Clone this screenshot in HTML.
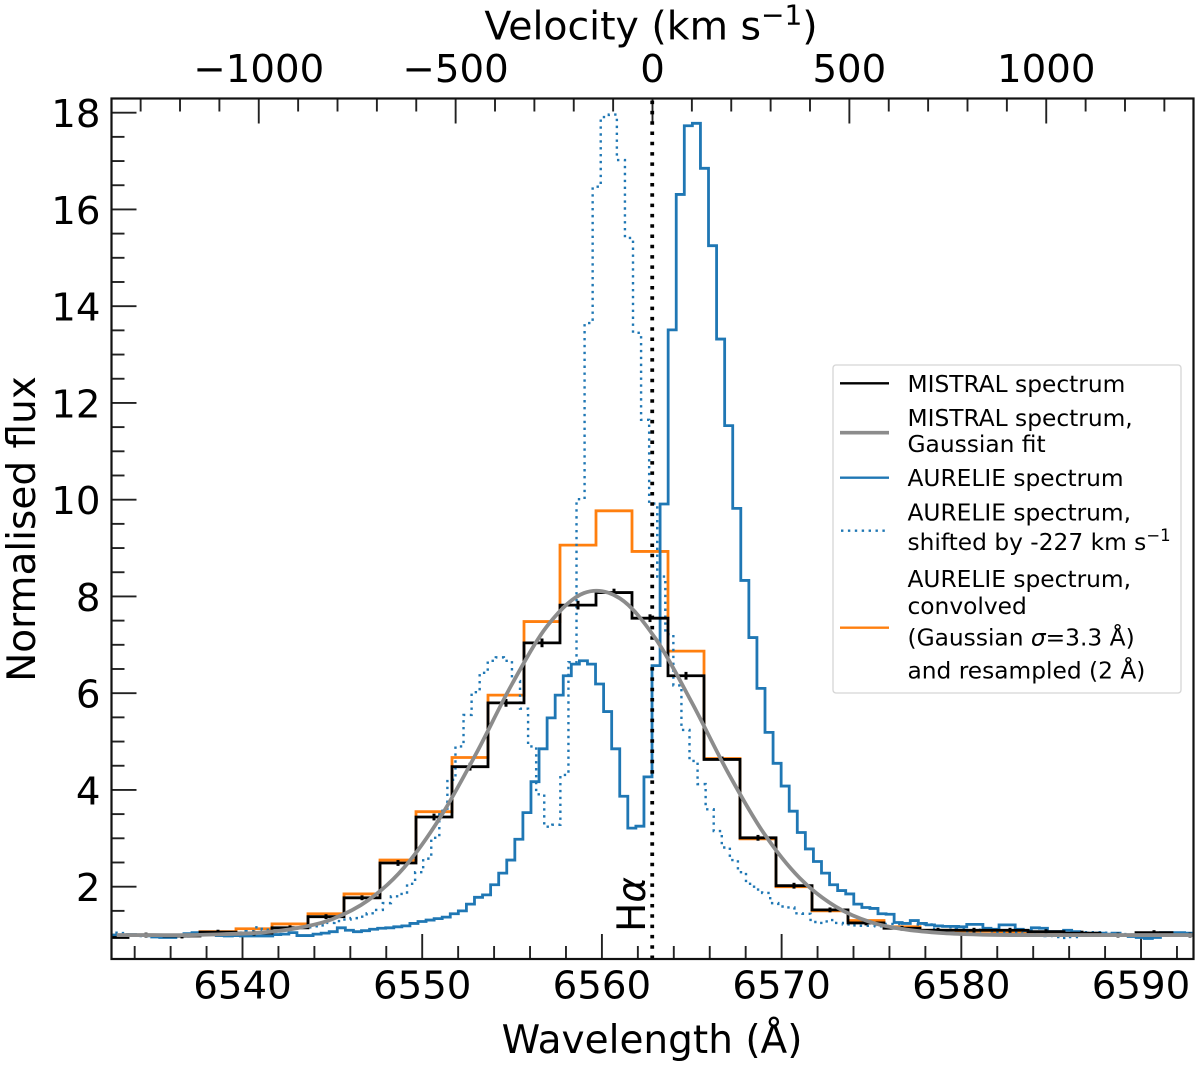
<!DOCTYPE html>
<html lang="en">
<head>
<meta charset="utf-8">
<title>H-alpha spectrum</title>
<style>
html,body{margin:0;padding:0;background:#fff;}
svg{display:block;filter:blur(0.35px);}
text{font-family:"DejaVu Sans","Liberation Sans",sans-serif;fill:#000;}
</style>
</head>
<body>
<svg id="chart" xmlns="http://www.w3.org/2000/svg" width="1200" height="1067" viewBox="0 0 1200 1067">
  <defs>
    <clipPath id="plot-clip"><rect x="111.5" y="98.5" width="1082" height="860.5"></rect></clipPath>
  </defs>
  <rect x="0" y="0" width="1200" height="1067" fill="#fff"></rect>
  <g id="ticks"></g>
  <g id="series" clip-path="url(#plot-clip)"></g>
  <rect x="111.5" y="98.5" width="1082" height="860.5" fill="none" stroke="#111" stroke-width="2.2"></rect>
  <g id="tick-labels"></g>

  <text x="652" y="1053" font-size="39" text-anchor="middle">Wavelength (Å)</text>
  <text transform="translate(35 529) rotate(-90)" font-size="39" text-anchor="middle">Normalised flux</text>
  <text x="651" y="39.5" font-size="39.4" text-anchor="middle">Velocity (km s<tspan dy="-15" font-size="28">−1</tspan><tspan dy="15">)</tspan></text>
  <text transform="translate(645 932) rotate(-90)" font-size="39">H<tspan font-style="italic">α</tspan></text>

  <g>
    <rect x="833" y="365" width="348" height="328" rx="3" fill="#fff" fill-opacity="0.9" stroke="#d5d5d5" stroke-width="1.3"></rect>
    <g>
      <line x1="840" x2="889" y1="383.3" y2="383.3" stroke="#000" stroke-width="2.4"></line>
      <text x="907.5" y="392" font-size="23.3">MISTRAL spectrum</text>
    </g>
    <g>
      <line x1="840" x2="889" y1="432.7" y2="432.7" stroke="#8c8c8c" stroke-width="3.6"></line>
      <text x="907.5" y="426" font-size="23.3">MISTRAL spectrum,</text>
      <text x="907.5" y="452" font-size="23.3">Gaussian fit</text>
    </g>
    <g>
      <line x1="840" x2="889" y1="477.7" y2="477.7" stroke="#1f77b4" stroke-width="2.4"></line>
      <text x="907.5" y="486" font-size="23.3">AURELIE spectrum</text>
    </g>
    <g>
      <line x1="841" x2="889" y1="530.7" y2="530.7" stroke="#1f77b4" stroke-width="2.4" stroke-dasharray="2.4 4.5"></line>
      <text x="907.5" y="520.5" font-size="23.3">AURELIE spectrum,</text>
      <text x="907.5" y="550" font-size="23.3">shifted by -227 km s<tspan dy="-9" font-size="16.5">−1</tspan></text>
    </g>
    <g>
      <line x1="840" x2="889" y1="627.7" y2="627.7" stroke="#ff7f0e" stroke-width="2.4"></line>
      <text x="907.5" y="587" font-size="23.3">AURELIE spectrum,</text>
      <text x="907.5" y="614" font-size="23.3">convolved</text>
      <text x="907.5" y="645.5" font-size="23.3">(Gaussian <tspan font-style="italic">σ</tspan>=3.3 Å)</text>
      <text x="907.5" y="678.5" font-size="23.3">and resampled (2 Å)</text>
    </g>
  </g>
</svg>
<script>
// Axis ranges and tick labels
var xDomain = [6532.71, 6592.92];
var yDomain = [0.505, 18.293];
var velocityDomain = [-1374, 1374];
var wavelengthTickLabels = [6540, 6550, 6560, 6570, 6580, 6590];
var fluxTickLabels = [2, 4, 6, 8, 10, 12, 14, 16, 18];
var velocityTickLabels = [-1000, -500, 0, 500, 1000];
var restWavelength = 6562.8;

// MISTRAL bins, left edge of first bin and bin width in Angstrom
var mistralBinStart = 6531.625;
var mistralBinWidth = 2.0033;
var mistralFlux = [0.95,1.00,0.98,1.06,1.04,1.15,1.38,1.77,2.49,3.44,4.48,5.80,7.04,7.82,8.08,7.55,6.36,4.63,3.01,2.02,1.52,1.25,1.14,1.10,1.10,1.10,1.07,1.04,1.00,1.05,1.00];
var mistralError = [0.05,0.05,0.05,0.05,0.05,0.05,0.05,0.05,0.06,0.07,0.08,0.08,0.09,0.09,0.08,0.08,0.08,0.06,0.06,0.06,0.05,0.05,0.05,0.05,0.05,0.05,0.05,0.05,0.05,0.05,0.05];
var convolvedFlux = [1.00,1.00,0.99,1.07,1.13,1.23,1.44,1.85,2.55,3.55,4.67,5.96,7.48,9.06,9.77,8.93,6.87,4.65,2.99,2.00,1.50,1.30,1.17,1.10,1.08,1.06,1.05,1.03,1.00,1.00,1.00];

// AURELIE high-resolution bins
var aurelieBinStart = 6532.70;
var aurelieBinWidth = 0.44908;
var aurelieFlux = [1.00,1.00,1.01,0.99,0.99,0.96,0.95,0.95,0.98,1.03,1.05,1.04,1.01,0.99,0.98,0.99,0.98,0.98,0.98,0.98,1.01,1.02,1.05,0.99,0.99,1.02,1.04,1.07,1.15,1.10,1.07,1.09,1.12,1.14,1.15,1.17,1.19,1.24,1.28,1.31,1.34,1.37,1.44,1.50,1.64,1.78,1.83,2.04,2.28,2.55,2.98,3.53,4.17,4.85,5.49,5.96,6.36,6.60,6.67,6.60,6.19,5.62,4.85,3.87,3.21,3.25,4.27,6.57,9.91,13.51,16.31,17.73,17.78,16.85,15.25,13.32,11.53,9.82,8.33,7.15,6.10,5.19,4.55,4.08,3.56,3.12,2.78,2.52,2.28,2.04,1.92,1.85,1.64,1.57,1.55,1.44,1.43,1.26,1.24,1.30,1.24,1.21,1.19,1.18,1.18,1.17,1.22,1.22,1.14,1.12,1.21,1.21,1.12,1.09,1.15,1.14,1.07,1.07,1.10,1.07,1.04,1.02,1.04,1.02,1.04,1.00,0.97,0.95,0.93,0.95,1.05,1.05,1.05,1.04];

// AURELIE spectrum as plotted after the velocity shift
var shiftedBinStart = 6532.54;
var shiftedBinWidth = 0.44908;
var shiftedFlux = [1.05,1.04,1.01,0.99,0.98,0.99,0.98,0.98,0.98,0.98,1.01,1.02,1.05,1.00,0.99,1.03,1.05,1.08,1.16,1.11,1.08,1.10,1.13,1.15,1.16,1.18,1.20,1.25,1.29,1.32,1.35,1.38,1.45,1.52,1.66,1.80,1.85,2.06,2.30,2.58,3.01,3.57,4.21,4.90,5.55,6.02,6.42,6.67,6.74,6.67,6.25,5.68,4.90,3.91,3.24,3.28,4.31,6.64,10.01,13.65,16.47,17.91,17.96,17.02,15.41,13.45,11.65,9.92,8.41,7.22,6.16,5.24,4.60,4.12,3.60,3.15,2.81,2.55,2.30,2.06,1.94,1.87,1.66,1.59,1.57,1.45,1.44,1.27,1.25,1.31,1.25,1.22,1.20,1.19,1.19,1.18,1.23,1.23,1.15,1.13,1.22,1.22,1.13,1.10,1.16,1.15,1.08,1.08,1.11,1.08,1.05,1.03,1.05,1.03,1.05,1.01,0.98,0.96,0.94,0.96,1.06,1.06,1.06,1.05,1.03,1.02,1.01,1.00,1.00,1.01,1.00,1.00,0.99,1.00,1.00];

// Gaussian fit curve, sampled every 2 Angstrom
var fitStart = 6533;
var fitStep = 2;
var fitFlux = [1.00,1.00,1.00,1.02,1.05,1.14,1.33,1.72,2.40,3.43,4.75,6.19,7.41,8.07,7.96,7.12,5.81,4.37,3.11,2.18,1.59,1.26,1.11,1.04,1.01,1.00,1.00,1.00,1.00,1.00,1.00];

var plotLeft = 111.5, plotRight = 1193.5, plotTop = 98.5, plotBottom = 959;
var SVG_NS = 'http://www.w3.org/2000/svg';

function xScale(w) {
  return plotLeft + (w - xDomain[0]) / (xDomain[1] - xDomain[0]) * (plotRight - plotLeft);
}
function yScale(f) {
  return plotBottom - (f - yDomain[0]) / (yDomain[1] - yDomain[0]) * (plotBottom - plotTop);
}
function vScale(v) {
  return plotLeft + (v - velocityDomain[0]) / (velocityDomain[1] - velocityDomain[0]) * (plotRight - plotLeft);
}

function make(tag, parent, attrs) {
  var el = document.createElementNS(SVG_NS, tag);
  for (var k in attrs) { el.setAttribute(k, attrs[k]); }
  parent.appendChild(el);
  return el;
}

function stepPath(start, width, values) {
  var d = '';
  for (var i = 0; i < values.length; i++) {
    var x0 = xScale(start + i * width);
    var x1 = xScale(start + (i + 1) * width);
    var y = yScale(values[i]);
    d += (i === 0 ? 'M' + x0.toFixed(2) + ' ' + y.toFixed(2) : 'V' + y.toFixed(2)) + 'H' + x1.toFixed(2);
  }
  return d;
}

function smoothPath(start, step, values) {
  var pts = values.map(function (v, i) { return [xScale(start + i * step), yScale(v)]; });
  var d = 'M' + pts[0][0].toFixed(2) + ' ' + pts[0][1].toFixed(2);
  for (var i = 0; i < pts.length - 1; i++) {
    var p0 = pts[Math.max(i - 1, 0)], p1 = pts[i], p2 = pts[i + 1], p3 = pts[Math.min(i + 2, pts.length - 1)];
    d += 'C' + (p1[0] + (p2[0] - p0[0]) / 6).toFixed(2) + ' ' + (p1[1] + (p2[1] - p0[1]) / 6).toFixed(2) + ' ' +
         (p2[0] - (p3[0] - p1[0]) / 6).toFixed(2) + ' ' + (p2[1] - (p3[1] - p1[1]) / 6).toFixed(2) + ' ' +
         p2[0].toFixed(2) + ' ' + p2[1].toFixed(2);
  }
  return d;
}

var ticksG = document.getElementById('ticks');
var labelsG = document.getElementById('tick-labels');
var seriesG = document.getElementById('series');
var tickStyle = { stroke: '#222', 'stroke-width': 1.9 };

function tickLine(x1, y1, x2, y2, name) {
  var el = make('line', ticksG, { x1: x1, y1: y1, x2: x2, y2: y2, stroke: tickStyle.stroke, 'stroke-width': tickStyle['stroke-width'] });
  
  
}
function tickLabel(x, y, str, anchor, name) {
  var el = make('text', labelsG, { x: x, y: y, 'font-size': 38.7, 'text-anchor': anchor });
  el.textContent = str;
  
  
}

// Bottom wavelength axis
for (var w = 6534; w <= 6592; w += 2) {
  var isMajorW = w % 10 === 0;
  tickLine(xScale(w), plotBottom, xScale(w), plotBottom - (isMajorW ? 25 : 13), isMajorW ? 'x-major-tick' : 'x-minor-tick');
}
wavelengthTickLabels.forEach(function (w) {
  tickLabel(xScale(w), 998.5, String(w), 'middle', 'x-tick-label-' + w);
});

// Left flux axis
for (var f = 1; f <= 18; f += 0.5) {
  var isMajorF = f % 2 === 0;
  tickLine(plotLeft, yScale(f), plotLeft + (isMajorF ? 25 : 13), yScale(f), isMajorF ? 'y-major-tick' : 'y-minor-tick');
}
fluxTickLabels.forEach(function (f) {
  tickLabel(100.5, yScale(f) + 14.5, String(f), 'end', 'y-tick-label-' + f);
});

// Top velocity axis
for (var v = -1300; v <= 1300; v += 100) {
  var isMajorV = v % 500 === 0;
  tickLine(vScale(v), plotTop, vScale(v), plotTop + (isMajorV ? 25 : 13), isMajorV ? 'top-major-tick' : 'top-minor-tick');
}
velocityTickLabels.forEach(function (v) {
  tickLabel(vScale(v), 82, (v < 0 ? '\u2212' + Math.abs(v) : String(v)), 'middle', 'top-tick-label-' + v);
});

// Series
var convolvedLine = make('path', seriesG, { d: stepPath(mistralBinStart, mistralBinWidth, convolvedFlux), fill: 'none', stroke: '#ff7f0e', 'stroke-width': 2.8 });



var shiftedLine = make('path', seriesG, { d: stepPath(shiftedBinStart, shiftedBinWidth, shiftedFlux), fill: 'none', stroke: '#1f77b4', 'stroke-width': 2.4, 'stroke-dasharray': '2.4 4.5' });



var aurelieLine = make('path', seriesG, { d: stepPath(aurelieBinStart, aurelieBinWidth, aurelieFlux), fill: 'none', stroke: '#1f77b4', 'stroke-width': 2.8 });



var mistralLine = make('path', seriesG, { d: stepPath(mistralBinStart, mistralBinWidth, mistralFlux), fill: 'none', stroke: '#000', 'stroke-width': 2.8 });



mistralFlux.forEach(function (val, i) {
  var cx = xScale(mistralBinStart + (i + 0.5) * mistralBinWidth);
  var bar = make('line', seriesG, { x1: cx, x2: cx, y1: yScale(val - mistralError[i]), y2: yScale(val + mistralError[i]), stroke: '#000', 'stroke-width': 3 });
  
  
});

var restLine = make('line', seriesG, { x1: xScale(restWavelength), x2: xScale(restWavelength), y1: plotBottom, y2: plotTop, stroke: '#000', 'stroke-width': 3.8, 'stroke-dasharray': '3.5 6.8' });



var fitLine = make('path', seriesG, { d: smoothPath(fitStart, fitStep, fitFlux), fill: 'none', stroke: '#8c8c8c', 'stroke-width': 3.8 });


</script>
</body>
</html>
